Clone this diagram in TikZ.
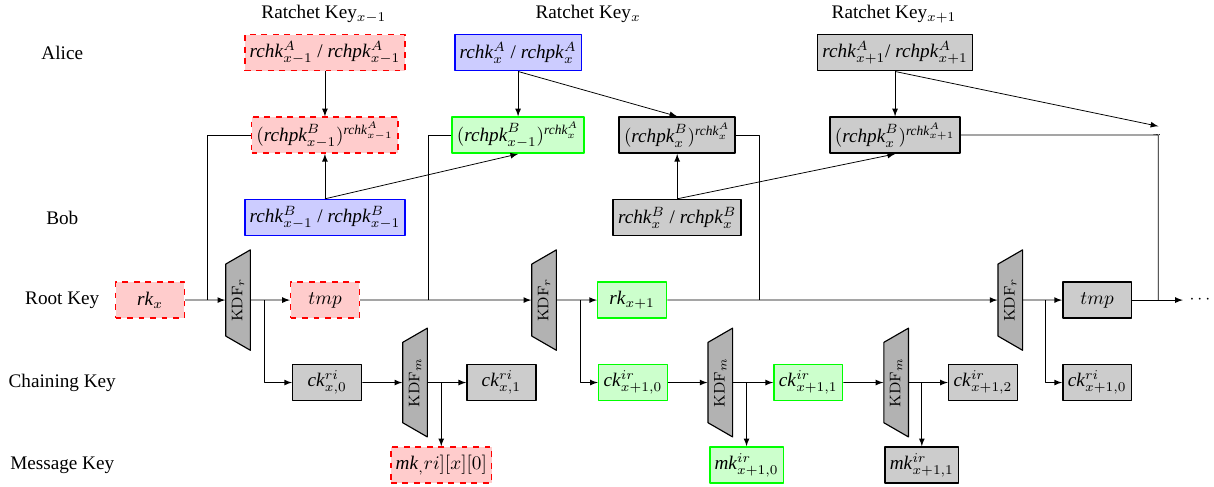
\documentclass[tikz,border=0pt]{standalone}
\usepackage{amsmath,amssymb}
\usepackage[no-math]{fontspec}
\setmainfont{Liberation Serif}
\usepackage{tikz}
\usetikzlibrary{shapes.geometric}

\begin{document}
\begin{tikzpicture}[line join=round, x=1cm, y=1cm, >=latex,
    keybox/.style={draw, thick, minimum width=1.26cm, minimum height=0.66cm, inner sep=2.5pt},
    oldkey/.style={keybox, draw=red, fill=red!20, dashed},
    curkey/.style={keybox, draw=blue, fill=blue!20},
    newkey/.style={keybox, draw=green, fill=green!20},
    futkey/.style={keybox, fill=gray!40},
    kdf/.style={trapezium, draw, semithick, fill=gray!60, rotate=90, minimum width=1.685cm, minimum height=0.45cm, inner sep=1pt, font=\footnotesize}]

                \useasboundingbox (0,0) rectangle (22.23,8.90);

                % row labels
                \node (alice) at (1.14,7.935) {Alice};
                \node (bob) at (1.14,4.915) {Bob};
                \node (root) at (1.14,3.405) {Root Key};
                \node (chain) at (1.14,1.895) {Chaining Key};
                \node (msg) at (1.14,0.385) {Message Key};

                \node (ratprev) at (5.93,8.645) {Ratchet Key$_{x-1}$};
                \node (ratcur) at (10.77,8.645) {Ratchet Key$_{x}$};
                \node (ratnext) at (16.37,8.645) {Ratchet Key$_{x+1}$};

                % alice
                \node[oldkey] (a1) at (5.95,7.935) {\textit{rchk}$^A_{x-1}$ / \textit{rchpk}$^A_{x-1}$};
                \node[curkey] (a2) at (9.487,7.935) {\textit{rchk}$^A_{x}$ / \textit{rchpk}$^A_{x}$};
                \node[futkey] (a3) at (16.39,7.935) {\textit{rchk}$^A_{x+1}$/ \textit{rchpk}$^A_{x+1}$};

                \node[oldkey] (u1) at (5.95,6.425) {$(\textit{rchpk}^B_{x-1})^{\textit{rchk}^A_{x-1}}$};
                \node[newkey] (u2) at (9.487,6.425) {$(\textit{rchpk}^B_{x-1})^{\textit{rchk}^A_{x}}$};
                \node[futkey] (u3) at (12.40,6.425) {$(\textit{rchpk}^B_{x})^{\textit{rchk}^A_{x}}$};
                \node[futkey] (u4) at (16.39,6.425) {$(\textit{rchpk}^B_{x})^{\textit{rchk}^A_{x+1}}$};
                \node[font=\tiny, inner xsep=0pt, inner ysep=4pt] (dots) at (21.21,6.43) {..};

                % bob
                \node[curkey] (b1) at (5.95,4.915) {\textit{rchk}$^B_{x-1}$ / \textit{rchpk}$^B_{x-1}$};
                \node[futkey] (b2) at (12.40,4.915) {\textit{rchk}$^B_{x}$ / \textit{rchpk}$^B_{x}$};

                % root key
                \node[oldkey] (rk0) at (2.747,3.405) {\textit{rk}$_x$};
                \node[kdf] (kdf1) at (4.359,3.405) {$\mathrm{KDF}_r$};
                \node[oldkey] (tmp1) at (5.952,3.405) {$tmp$};
                \node[kdf] (kdf2) at (9.963,3.405) {$\mathrm{KDF}_r$};
                \node[newkey] (rk1) at (11.575,3.405) {\textit{rk}$_{x+1}$};
                \node[kdf] (kdf3) at (18.50,3.405) {$\mathrm{KDF}_r$};
                \node[futkey] (tmp2) at (20.09,3.405) {$tmp$};
                \node[font=\small] (more) at (22.0,3.405) {$\cdots$};

                \coordinate (j1) at (3.79,3.405);
                \coordinate (j2) at (7.84,3.405);
                \coordinate (j3) at (13.90,3.405);
                \coordinate (j4) at (21.21,3.405);
                \coordinate (s1) at (4.835,3.405);
                \coordinate (s2) at (10.62,3.405);
                \coordinate (s3) at (19.14,3.405);

                % chaining key
                \node[futkey] (ck0) at (5.99,1.895) {\textit{ck}$^{ri}_{x,0}$};
                \node[kdf] (kdfm1) at (7.60,1.895) {$\mathrm{KDF}_m$};
                \node[futkey] (ck1) at (9.18,1.895) {\textit{ck}$^{ri}_{x,1}$};
                \node[newkey] (ck2) at (11.59,1.895) {\textit{ck}$^{ir}_{x+1,0}$};
                \node[kdf] (kdfm2) at (13.19,1.895) {$\mathrm{KDF}_m$};
                \node[newkey] (ck3) at (14.80,1.895) {\textit{ck}$^{ir}_{x+1,1}$};
                \node[kdf] (kdfm3) at (16.41,1.895) {$\mathrm{KDF}_m$};
                \node[futkey] (ck4) at (18.00,1.895) {\textit{ck}$^{ir}_{x+1,2}$};
                \node[futkey] (ck5) at (20.09,1.895) {\textit{ck}$^{ri}_{x+1,0}$};

                % message key
                \node[oldkey] (mk0) at (8.08,0.385) {\textit{mk}$_,ri][x][0]$};
                \node[newkey] (mk1) at (13.67,0.385) {\textit{mk}$^{ir}_{x+1,0}$};
                \node[futkey] (mk2) at (16.88,0.385) {\textit{mk}$^{ir}_{x+1,1}$};

                \draw[->] (a1) -- (u1);
                \draw[->] (b1) -- (u1);
                \draw[->] (b1.north) -- (u2.south);
                \draw[->] (a2) -- (u2);
                \draw[->] (a2.south) -- (u3.north);
                \draw[->] (b2) -- (u3);
                \draw[->] (b2.north) -- (u4.south);
                \draw[->] (a3) -- (u4);
                \draw[->] (a3.south) -- (dots.north);
                \draw (u4) -- (dots.center) -- (j4);

                \draw (u1.west) -| (j1);
                \draw (u2.west) -| (j2);
                \draw (u3.east) -| (j3);

                \draw[->] (rk0) -- (kdf1.north);
                \draw[->] (kdf1.south) -- (tmp1);
                \draw[->] (tmp1) -- (kdf2.north);
                \draw[->] (kdf2.south) -- (rk1);
                \draw[->] (rk1) -- (kdf3.north);
                \draw[->] (kdf3.south) -- (tmp2);
                \draw[->] (tmp2) -- (more);

                \draw[->] (s1) |- (ck0);
                \draw[->] (s2) |- (ck2);
                \draw[->] (s3) |- (ck5);

                \draw[->] (ck0) -- (kdfm1.north);
                \draw[->] (kdfm1.south) -- (ck1);
                \draw[->] (mk0 |- ck1) -- (mk0);
                \draw[->] (ck2) -- (kdfm2.north);
                \draw[->] (kdfm2.south) -- (ck3);
                \draw[->] (mk1 |- ck3) -- (mk1);
                \draw[->] (ck3) -- (kdfm3.north);
                \draw[->] (kdfm3.south) -- (ck4);
                \draw[->] (mk2 |- ck4) -- (mk2);

            \end{tikzpicture}
\end{document}
